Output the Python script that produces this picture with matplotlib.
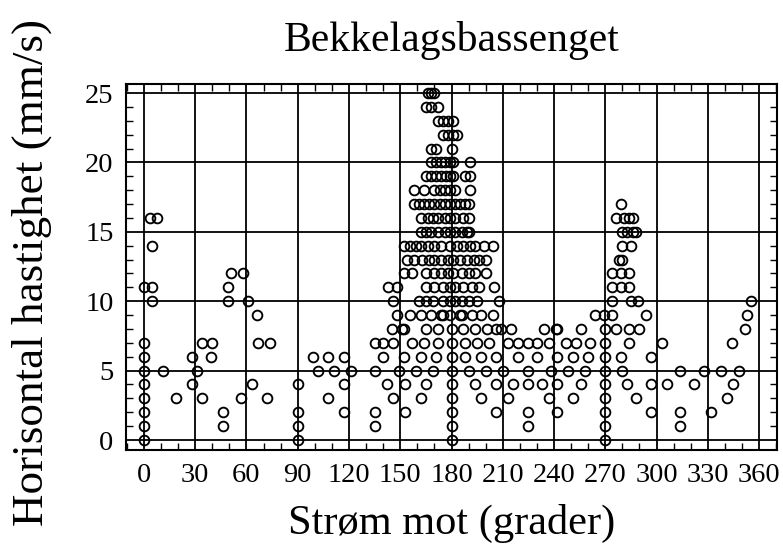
import matplotlib
matplotlib.use("Agg")
import matplotlib.pyplot as plt
from matplotlib.ticker import MultipleLocator

# Direction (degrees) of observations at each integer speed level (mm/s)
s00 = [0, 90, 180, 270]
s01 = [0, 46, 90, 135, 180, 225, 270, 314]
s02 = [0, 46, 90, 117, 135, 153, 180, 206, 225, 242, 270, 297, 314, 332]
s03 = [0, 19, 34, 57, 72, 108, 146, 162, 180, 197, 213, 237, 251, 270, 288, 341]
s04 = [0, 28, 63, 90, 117, 142, 153, 165, 180, 194, 206, 216, 225, 233, 242,
       256, 270, 283, 297, 306, 322, 345]
s05 = [0, 11, 31, 102, 111, 121, 135, 149, 159, 169, 180, 190, 200, 210, 225,
       238, 248, 258, 270, 280, 314, 328, 338, 348]
s06 = [0, 28, 39, 99, 108, 117, 140, 152, 162, 171, 180, 188, 197, 206, 219,
       230, 242, 251, 260, 270, 279, 297]
s07 = [0, 34, 40, 67, 74, 135, 140, 146, 157, 164, 172, 180, 188, 195, 202,
       213, 219, 225, 230, 237, 247, 253, 261, 270, 284, 303, 344]
s08 = [145, 151, 152, 165, 172, 180, 187, 194, 201, 206, 209, 215, 234, 241,
       242, 256, 270, 276, 284, 290, 352]
s09 = [66, 148, 156, 162, 168, 174, 175, 179, 185, 186, 192, 197, 204, 264,
       269, 274, 294, 353]
s10 = [4.5, 49, 61, 146, 161, 165, 169, 175, 179, 182, 186, 190, 195, 208,
       274, 285, 289, 355]
s11 = [0, 4.5, 49, 143, 148, 165, 170, 175, 179, 182, 187, 192, 196, 205,
       274, 279, 284]
s12 = [51, 58, 152, 157, 165, 170, 174, 178, 181, 186, 190, 194, 200, 274,
       279, 284]
s13 = [154, 158, 163, 167, 170, 174, 178, 181, 185, 189, 193, 196, 200, 278,
       280]
s14 = [4.5, 152, 156, 159, 162, 166, 170, 174, 179, 183, 187, 191, 194, 199,
       204, 280, 285]
s15 = [162, 165, 168, 172, 176, 179, 182, 186, 189, 190, 280, 283, 286, 288]
s16 = [3.5, 7.4, 162, 166, 169, 172, 176, 179, 182, 187, 190, 276, 281, 284,
       286]
s17 = [158, 161, 164, 167, 170, 173, 176, 179, 182, 185, 188, 190, 279]
s18 = [158, 164, 170, 173, 176, 179, 182, 191]
s19 = [165, 168, 171, 174, 177, 179, 181, 188, 191]
s20 = [168, 171, 174, 176, 179, 181, 191]
s21 = [168, 171, 180]
s22 = [175, 178, 181, 183]
s23 = [172, 175, 178, 181]
s24 = [165, 168, 172]
s25 = [166, 168, 170]

levels = [s00, s01, s02, s03, s04, s05, s06, s07, s08, s09, s10, s11, s12,
          s13, s14, s15, s16, s17, s18, s19, s20, s21, s22, s23, s24, s25]

x_ticks = [0, 30, 60, 90, 120, 150, 180, 210, 240, 270, 300, 330, 360]
y_ticks = [0, 5, 10, 15, 20, 25]

title = "Bekkelagsbassenget"
xlabel = "Strøm mot (grader)"
ylabel = "Horisontal hastighet (mm/s)"

directions = []
speeds = []
for spd, dirs in enumerate(levels):
    directions.extend(dirs)
    speeds.extend([spd] * len(dirs))

plt.rcParams['font.family'] = ['Liberation Serif', 'DejaVu Serif']

fig = plt.figure(figsize=(7.83, 5.54), dpi=100)
ax = fig.add_axes([126 / 783, 1 - 450 / 554, 651 / 783, 366 / 554])

ax.plot(directions, speeds, linestyle='none', marker='o', markersize=7.0,
        markerfacecolor='none', markeredgecolor='black', markeredgewidth=1.35,
        zorder=3)

ax.set_xlim(-10.5, 370.5)
ax.set_ylim(-0.72, 25.65)
ax.set_xticks(x_ticks)
ax.set_yticks(y_ticks)
ax.xaxis.set_minor_locator(MultipleLocator(10))
ax.yaxis.set_minor_locator(MultipleLocator(1))
ax.tick_params(which='both', direction='in', top=True, right=True,
               colors='black', labelsize=20.5)
ax.tick_params(which='major', length=0, pad=9)
ax.tick_params(which='minor', length=5, width=1.0)
ax.grid(which='major', color='black', linewidth=1.3)
ax.set_axisbelow(True)
for sp in ax.spines.values():
    sp.set_linewidth(1.5)

ax.set_title(title, fontsize=30, pad=24)
ax.set_xlabel(xlabel, fontsize=30.5)
ax.set_ylabel(ylabel, fontsize=32.5)
ax.xaxis.set_label_coords(0.5, -0.147)
ax.yaxis.set_label_coords(-0.113, 0.486)

fig.savefig("out.png", dpi=100)
